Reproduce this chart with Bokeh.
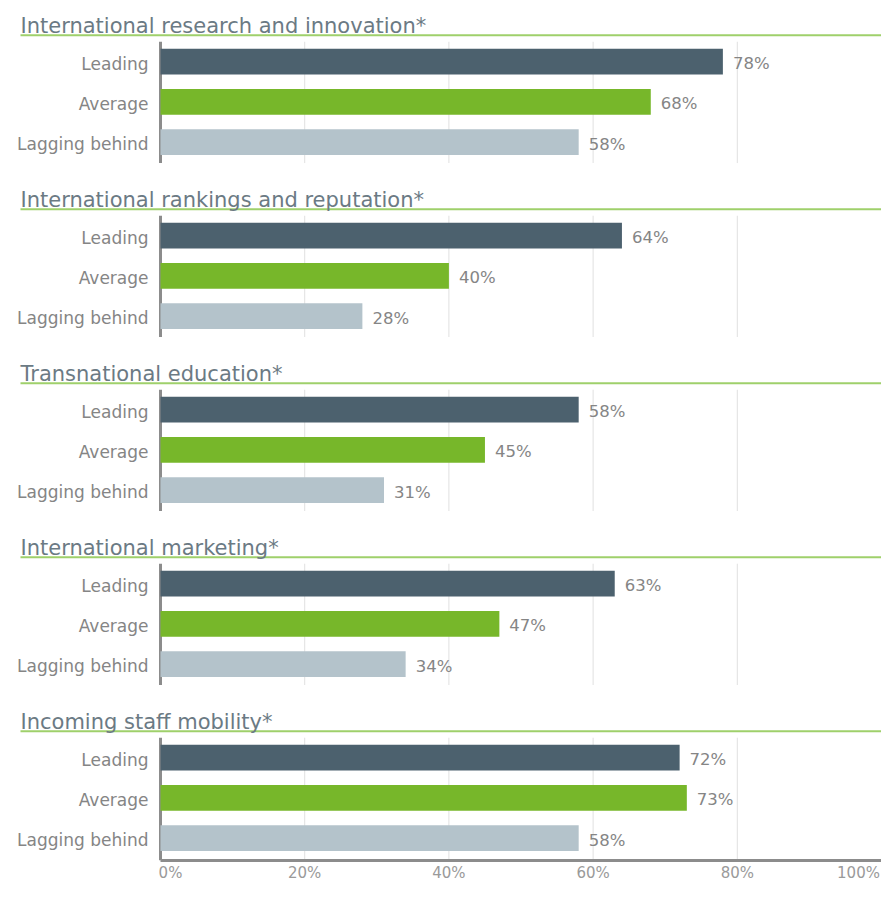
from bokeh.plotting import figure
from bokeh.models import Range1d, FixedTicker, ColumnDataSource
from bokeh.core.properties import value
from bokeh.embed import file_html
from bokeh.resources import INLINE

# ---------------- data ----------------
panels = [
    "International research and innovation*",
    "International rankings and reputation*",
    "Transnational education*",
    "International marketing*",
    "Incoming staff mobility*",
]
groups = ["Leading", "Average", "Lagging behind"]
leading = [78, 64, 58, 63, 72]
average = [68, 40, 45, 47, 73]
lagging = [58, 28, 31, 34, 58]
x_ticks = [0, 20, 40, 60, 80, 100]
x_tick_labels = ["0%", "20%", "40%", "60%", "80%", "100%"]

# ---------------- styling / layout ----------------
FONT = "DejaVu Sans"
C_LEAD, C_AVG, C_LAG = "#4c616e", "#77b72a", "#b4c3cb"
C_TITLE = "#6b7a84"
C_LINE = "#9fd06b"
C_TEXT = "#858585"
C_TICK = "#9a9a9a"
C_AXIS = "#8c8c8c"
C_GRID = "#e0e0e0"

W, H = 881, 884
FRAME_H = 865
AXIS_X0 = 160                    # px position of 0%
PXU = 100.0 / (W - AXIS_X0)      # data units per px
TOP0 = 35                        # underline of first panel (px)
STEP = 175.0                     # px between panels
BAR_OFF = [26.5, 67.0, 107.5]
BAR_H = 26
AX_TOP, AX_BOT = 6.5, 128.5
TITLE_X = (20 - AXIS_X0) * PXU

colors = [C_LEAD, C_AVG, C_LAG]
series = [leading, average, lagging]

p = figure(width=W, height=H, output_backend="svg", toolbar_location=None,
           x_range=Range1d(-AXIS_X0 * PXU, 100), y_range=Range1d(FRAME_H, 0),
           min_border_left=0, min_border_right=0, min_border_top=0,
           min_border_bottom=H - FRAME_H)
p.outline_line_color = None
p.xgrid.visible = False
p.ygrid.visible = False
p.yaxis.visible = False

# gridlines and per-panel axis lines
gx, gy0, gy1 = [], [], []
ax0, ay0, ay1 = [], [], []
for i in range(len(panels)):
    top = TOP0 + i * STEP
    bot = top + AX_BOT if i < len(panels) - 1 else FRAME_H
    for t in x_ticks[1:]:
        gx.append(t); gy0.append(top + AX_TOP); gy1.append(bot)
    ax0.append(0); ay0.append(top + AX_TOP); ay1.append(bot)
p.segment(x0=gx, y0=gy0, x1=gx, y1=gy1, line_color=C_GRID, line_width=1)
p.segment(x0=ax0, y0=ay0, x1=ax0, y1=ay1, line_color=C_AXIS, line_width=3)

# titles + underlines
tys = [TOP0 + i * STEP for i in range(len(panels))]
p.segment(x0=[TITLE_X] * len(panels), x1=[100] * len(panels),
          y0=tys, y1=tys, line_color=C_LINE, line_width=2)
p.text(x=[TITLE_X] * len(panels), y=[t - 9.5 for t in tys], text=panels,
       text_font=value(FONT), text_font_size="21px", text_color=C_TITLE,
       text_baseline="middle", text_align="left")

# bars, category labels, value labels
for j, (vals, col) in enumerate(zip(series, colors)):
    ys = [TOP0 + i * STEP + BAR_OFF[j] for i in range(len(panels))]
    src = ColumnDataSource(dict(y=ys, v=vals, lab=[f"{v}%" for v in vals],
                                lx=[v + 10 * PXU for v in vals],
                                cat=[groups[j]] * len(panels)))
    p.hbar(y="y", right="v", left=0, height=BAR_H, fill_color=col,
           line_color=None, source=src)
    p.text(x="lx", y="y", text="lab", source=src, text_font=value(FONT),
           text_font_size="16.5px", text_color=C_TEXT,
           text_baseline="middle", text_align="left", y_offset=2)
    p.text(x=-12 * PXU, y="y", text="cat", source=src, text_font=value(FONT),
           text_font_size="17px", text_color=C_TEXT,
           text_baseline="middle", text_align="right", y_offset=2)

# bottom axis (tick marks hidden; end labels nudged inward like the original)
label_pos = list(x_ticks)
label_pos[0] = round(x_ticks[0] + 10 * PXU, 2)
label_pos[-1] = round(x_ticks[-1] - 23 * PXU, 2)
ax = p.xaxis[0]
ax.bounds = (0, 100)
ax.ticker = FixedTicker(ticks=label_pos)
ax.major_label_overrides = {pos: lab for pos, lab in zip(label_pos, x_tick_labels)}
ax.axis_line_color = C_AXIS
ax.axis_line_width = 3
ax.major_tick_line_color = None
ax.minor_tick_line_color = None
ax.major_tick_out = 0
ax.major_tick_in = 0
ax.major_label_standoff = 3
ax.major_label_text_font = FONT
ax.major_label_text_font_size = "15px"
ax.major_label_text_color = C_TICK

open("out.html", "w").write(file_html(p, INLINE))
